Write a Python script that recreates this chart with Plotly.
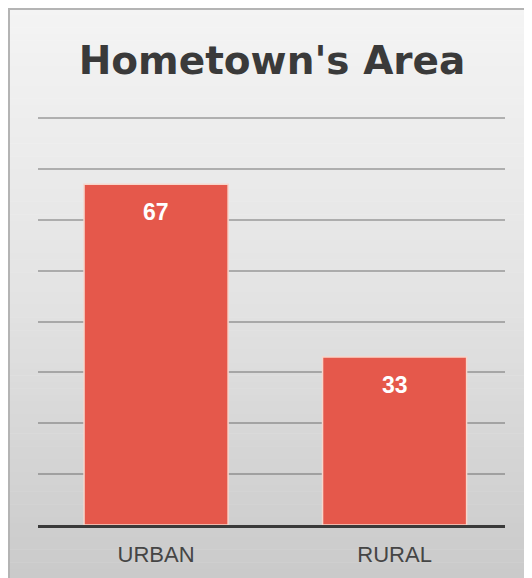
import plotly.graph_objects as go

# ---- data ----
categories = ["URBAN", "RURAL"]
values = [67, 33]
value_labels = ["67", "33"]
title_text = "Hometown's Area"

W, H = 532, 578
OFF = 8  # page body margin: figure origin sits at (8, 8) on screen
# target plot area in screen pixels
SL, SR, ST, SB = 38, 505, 117, 525
L, T = SL - OFF, ST - OFF
R, B = W - (SR - OFF), H - (SB - OFF)
pw, ph = W - L - R, H - T - B

def px_x(p):  # figure pixel -> paper x
    return (p - L) / pw

def px_y(p):  # figure pixel -> paper y
    return (H - B - p) / ph

fig = go.Figure()
fig.add_trace(go.Bar(
    x=categories, y=values,
    width=0.604,
    marker=dict(color="#e5584b", line=dict(color="#f7d6cc", width=1.5)),
    hoverinfo="skip",
))

for c, v, t in zip(categories, values, value_labels):
    fig.add_annotation(x=c, y=v, text=t, showarrow=False, xref="x", yref="y",
                       yanchor="top", yshift=-13,
                       font=dict(family="Liberation Sans, Arial", size=23, color="white", weight="bold"))

# background gradient (vertical) drawn as strips over the whole figure
shapes = []
n = 90
top_px, bot_px = 0, H + 2
c_top, c_mid, c_bot = 244, 227, 201
for i in range(n):
    y0p = top_px + (bot_px - top_px) * i / n
    y1p = top_px + (bot_px - top_px) * (i + 1) / n
    fm = (i + 0.5) / n
    if fm < 0.5:
        g = c_top + (c_mid - c_top) * (fm / 0.5)
    else:
        g = c_mid + (c_bot - c_mid) * ((fm - 0.5) / 0.5)
    g = int(round(g))
    shapes.append(dict(type="rect", xref="paper", yref="paper", layer="below",
                       x0=px_x(-2), x1=px_x(W + 2), y0=px_y(y1p + 0.5), y1=px_y(y0p),
                       line=dict(width=0), fillcolor=f"rgb({g},{g},{g})"))
# border of the chart box (top and left visible)
shapes.append(dict(type="rect", xref="paper", yref="paper", layer="below",
                   x0=px_x(1), x1=px_x(W + 4), y0=px_y(H + 4), y1=px_y(1),
                   line=dict(color="#b4b4b4", width=2), fillcolor="rgba(0,0,0,0)"))
fig.update_layout(shapes=shapes)

fig.update_layout(
    width=W, height=H,
    margin=dict(l=L, r=R, t=T, b=B),
    paper_bgcolor="white",
    plot_bgcolor="rgba(0,0,0,0)",
    showlegend=False,
    title=dict(text=title_text, x=(272 - OFF) / W, xanchor="center", y=1 - (60 - OFF) / H, yanchor="middle",
               font=dict(family="DejaVu Sans", size=39, color="#3a3a3a", weight="bold")),
    xaxis=dict(type="category", range=[-0.495, 1.463], showgrid=False, zeroline=False,
               showline=True, linecolor="#3a3a3a", linewidth=3,
               ticks="outside", ticklen=8, tickcolor="rgba(0,0,0,0)",
               tickfont=dict(family="Liberation Sans, Arial", size=22, color="#454545")),
    yaxis=dict(range=[0, 80.2], dtick=10, showticklabels=False, zeroline=False,
               showgrid=True, gridcolor="rgba(90,90,90,0.42)", gridwidth=1.5, showline=False),
)

fig.write_html("out.html")
